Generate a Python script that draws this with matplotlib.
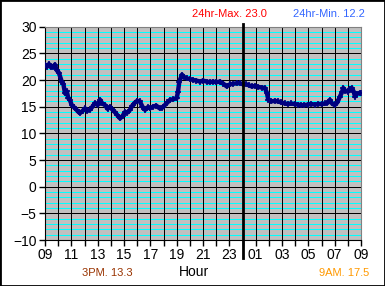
import numpy as np
import matplotlib.pyplot as plt
from matplotlib.patches import Rectangle

plt.rcParams['font.family'] = ['Liberation Sans', 'DejaVu Sans']

# hours since 09:00 and temperature
hours = [0.0, 0.15, 0.3, 0.45, 0.63, 0.75, 0.9, 1.05, 1.27, 1.4, 1.52, 1.65, 1.77, 1.9,
         2.03, 2.2, 2.4, 2.55, 2.66, 2.85, 3.04, 3.2, 3.4, 3.6, 3.8, 4.0, 4.18, 4.35,
         4.56, 4.75, 4.94, 5.1, 5.3, 5.5, 5.7, 5.9, 6.07, 6.25, 6.45, 6.6, 6.8, 7.0,
         7.2, 7.4, 7.6, 7.8, 7.97, 8.2, 8.45, 8.7, 8.9, 9.1, 9.3, 9.5, 9.75, 10.0,
         10.1, 10.2, 10.4, 10.55, 10.76, 11.0, 11.26, 11.5, 11.77, 12.0, 12.28, 12.5,
         12.78, 13.0, 13.3, 13.55, 13.8, 14.05, 14.3, 14.55, 14.8, 15.05, 15.3, 15.5,
         15.7, 15.95, 16.2, 16.45, 16.7, 16.85, 16.96, 17.2, 17.45, 17.7, 17.95, 18.2,
         18.45, 18.7, 18.95, 19.2, 19.45, 19.7, 19.95, 20.2, 20.5, 20.75, 21.0, 21.26,
         21.45, 21.64, 21.8, 22.0, 22.2, 22.4, 22.55, 22.65, 22.8, 23.0, 23.15, 23.3,
         23.45, 23.54, 23.7, 23.9, 24.0]
temps = [22.8, 22.5, 23.0, 22.4, 22.5, 22.9, 21.8, 21.4, 19.7, 19.2, 17.5, 17.9, 16.6, 16.2,
         15.3, 14.9, 14.4, 14.0, 13.8, 14.2, 14.7, 14.2, 14.4, 15.0, 15.7, 15.3, 16.3, 15.6,
         15.3, 14.6, 15.0, 14.5, 14.0, 13.4, 12.8, 13.3, 14.0, 13.9, 14.4, 15.1, 15.7, 16.1,
         16.0, 15.0, 14.4, 14.9, 14.7, 15.0, 15.2, 14.7, 14.8, 15.3, 15.8, 16.3, 16.4, 16.6,
         17.8, 19.7, 21.0, 20.6, 20.3, 20.2, 20.0, 19.9, 19.7, 19.9, 19.7, 19.6,
         19.7, 19.6, 19.7, 19.3, 18.8, 19.2, 19.3, 19.4, 19.4, 19.2, 19.2, 19.0,
         18.8, 18.9, 18.7, 18.6, 18.5, 17.6, 16.3, 16.0, 16.1, 16.0, 15.8, 15.6,
         15.5, 15.6, 15.5, 15.4, 15.3, 15.3, 15.4, 15.5, 15.4, 15.5, 15.5, 15.6,
         15.7, 16.3, 15.6, 15.3, 15.8, 16.9, 17.7, 18.5, 18.0, 17.8, 18.4, 18.5,
         17.8, 16.9, 17.4, 17.6, 17.5]

x_ticks = list(range(0, 25, 2))
x_labels = ['09', '11', '13', '15', '17', '19', '21', '23', '01', '03', '05', '07', '09']
y_ticks = list(range(-10, 31, 5))

fig = plt.figure(figsize=(3.85, 2.86), dpi=100)
fig.patch.set_facecolor('white')
fig.add_artist(Rectangle((0, 0), 1, 1, transform=fig.transFigure, fill=False,
                         edgecolor='black', linewidth=2))

ax = fig.add_axes([0.1169, 0.1608, 0.8208, 0.7458])
ax.set_facecolor('#C0C0C0')
ax.set_xlim(0, 24)
ax.set_ylim(-10, 30)

# grid: cyan every degree, black every 5 degrees and every hour (1 px, crisp)
for v in range(-9, 30):
    if v % 5:
        ax.axhline(v, color='#00FFFF', lw=0.72, zorder=1, antialiased=False)
for v in y_ticks[1:-1]:
    ax.axhline(v, color='black', lw=0.72, zorder=1.5, antialiased=False)
for h in range(1, 24):
    ax.axvline(h, color='black', lw=0.72, zorder=1.5, antialiased=False)

# midnight marker
ax.plot([15, 15], [-0.084, 1.0125], color='black', lw=2,
        transform=ax.get_xaxis_transform(), clip_on=False, zorder=4)

ax.plot(hours, temps, color='#000080', lw=3.2, zorder=3,
        marker='+', markersize=5, markeredgewidth=1.2)

ax.set_xticks(x_ticks)
ax.set_xticklabels(x_labels)
ax.set_xticks(range(0, 25), minor=True)
ax.set_yticks(y_ticks)
ax.tick_params(axis='both', labelsize=10, length=4, width=1, color='black', pad=2)
ax.tick_params(axis='x', which='minor', length=4, width=1, color='black')
for s in ax.spines.values():
    s.set_color('#808080')
ax.spines['left'].set_color('black')
ax.spines['bottom'].set_color('black')

fig.text(0.595, 0.951, '24hr-Max. 23.0', color='#FF0000', fontsize=8, ha='center', va='center')
fig.text(0.855, 0.951, '24hr-Min. 12.2', color='#3366FF', fontsize=8, ha='center', va='center')
fig.text(0.278, 0.046, '3PM. 13.3', color='#993300', fontsize=8, ha='center', va='center')
fig.text(0.505, 0.049, 'Hour', color='black', fontsize=10, ha='center', va='center')
fig.text(0.894, 0.046, '9AM. 17.5', color='#FF9900', fontsize=8, ha='center', va='center')

fig.savefig('out.png', dpi=100)
